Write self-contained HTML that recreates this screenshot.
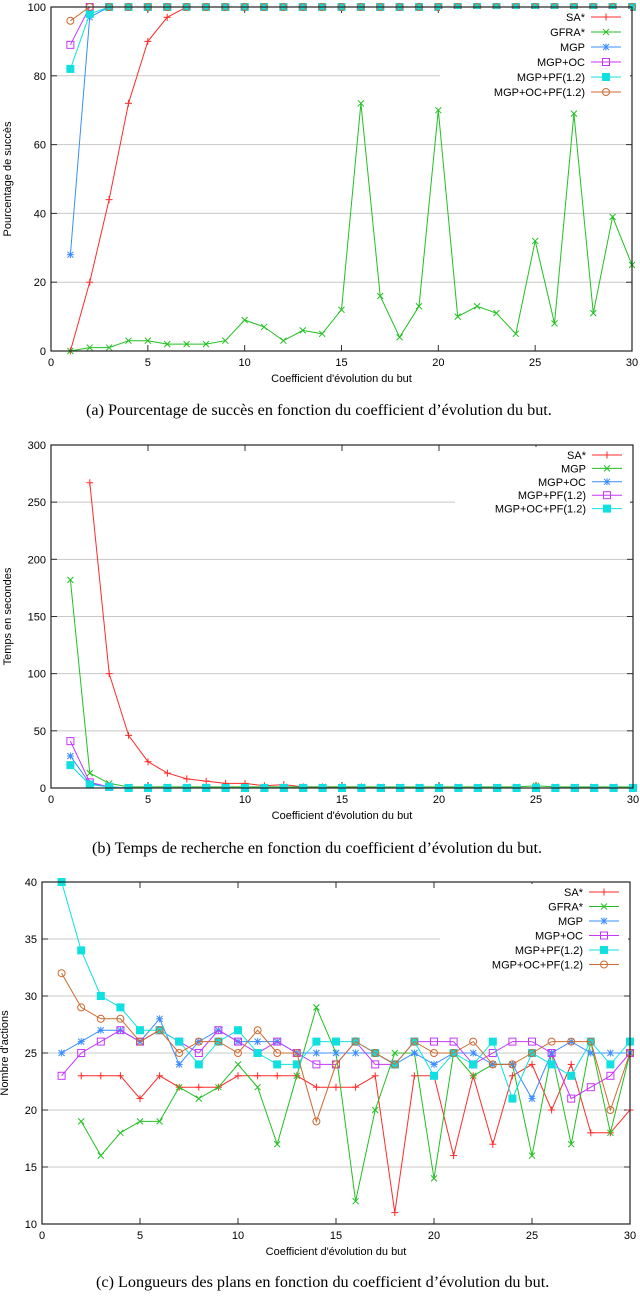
<!DOCTYPE html>
<html><head><meta charset="utf-8"><style>
html,body{margin:0;padding:0;background:#fff;}
svg{display:block;font-family:"Liberation Sans",sans-serif;}
.cap{font-family:"Liberation Serif",serif;font-size:16.2px;}
</style></head><body>
<svg id="fig" width="640" height="1296" viewBox="0 0 640 1296" xmlns="http://www.w3.org/2000/svg"></svg>
<script>
// ---------- Chart (a) data ----------
const catsA = [1,2,3,4,5,6,7,8,9,10,11,12,13,14,15,16,17,18,19,20,21,22,23,24,25,26,27,28,29,30];
const a_SA = [0,20,44,72,90,97,100,100,100,100,100,100,100,100,100,100,100,100,100,100,100,100,100,100,100,100,100,100,100,100];
const a_GFRA = [0,1,1,3,3,2,2,2,3,9,7,3,6,5,12,72,16,4,13,70,10,13,11,5,32,8,69,11,39,25];
const a_MGP = [28,97,100,100,100,100,100,100,100,100,100,100,100,100,100,100,100,100,100,100,100,100,100,100,100,100,100,100,100,100];
const a_MGPOC = [89,100,100,100,100,100,100,100,100,100,100,100,100,100,100,100,100,100,100,100,100,100,100,100,100,100,100,100,100,100];
const a_MGPPF = [82,98,100,100,100,100,100,100,100,100,100,100,100,100,100,100,100,100,100,100,100,100,100,100,100,100,100,100,100,100];
const a_MGPOCPF = [96,100,100,100,100,100,100,100,100,100,100,100,100,100,100,100,100,100,100,100,100,100,100,100,100,100,100,100,100,100];
const a_yticks = [0,20,40,60,80,100];
// ---------- Chart (b) data ----------
const b_SA = [null,267,100,46,23,13,8,6,4,4,2,3,1,1,1,1,0,0,0,0,0,0,0,0,0,0,0,0,0,0];
const b_MGP = [182,13,4,1,1,1,1,1,1,1,1,1,1,1,1,1,1,1,1,1,1,1,1,1,2,1,1,1,1,1];
const b_MGPOC = [28,4,1,0,0,0,0,0,0,0,0,0,0,0,0,0,0,0,0,0,0,0,0,0,0,0,0,0,0,0];
const b_MGPPF = [41,5,1,0,0,0,0,0,0,0,0,0,0,0,0,0,0,0,0,0,0,0,0,0,0,0,0,0,0,0];
const b_MGPOCPF = [20,3,1,0,0,0,0,0,0,0,0,0,0,0,0,0,0,0,0,0,0,0,0,0,0,0,0,0,0,0];
const b_yticks = [0,50,100,150,200,250,300];
// ---------- Chart (c) data ----------
const c_SA = [null,23,23,23,21,23,22,22,22,23,23,23,23,22,22,22,23,11,23,23,16,23,17,23,24,20,24,18,18,20];
const c_GFRA = [null,19,16,18,19,19,22,21,22,24,22,17,23,29,25,12,20,25,25,14,25,23,24,24,16,25,17,26,18,25];
const c_MGP = [25,26,27,27,26,28,24,26,27,26,26,26,25,25,25,25,25,24,25,24,25,25,24,24,21,25,26,25,25,25];
const c_MGPOC = [23,25,26,27,26,27,26,25,27,26,25,26,25,24,24,26,24,24,26,26,26,24,25,26,26,25,21,22,23,25];
const c_MGPPF = [40,34,30,29,27,27,26,24,26,27,25,24,24,26,26,26,25,24,26,23,25,24,26,21,25,24,23,26,24,26];
const c_MGPOCPF = [32,29,28,28,26,27,25,26,26,25,27,25,25,19,24,26,25,24,26,25,25,26,24,24,25,26,26,26,20,25];
const c_yticks = [10,15,20,25,30,35,40];
const xticks = [0,5,10,15,20,25,30];

const NS = "http://www.w3.org/2000/svg";
const svg = document.getElementById('fig');
function mk(tag, attrs, parent){
  const e = document.createElementNS(NS, tag);
  for (const k in attrs) e.setAttribute(k, attrs[k]);
  (parent||svg).appendChild(e);
  return e;
}
const COL = {red:'#ff2a2a', green:'#22c022', blue:'#3a8cff', mag:'#c636ff', cyan:'#10e0e0', brown:'#cc6a30'};

function marker(g, type, x, y, c){
  const s = 3.5;
  if (type==='plus'||type==='star'){
    mk('line',{x1:x-s,y1:y,x2:x+s,y2:y,stroke:c,'stroke-width':1},g);
    mk('line',{x1:x,y1:y-s,x2:x,y2:y+s,stroke:c,'stroke-width':1},g);
  }
  if (type==='cross'||type==='star'){
    mk('line',{x1:x-3,y1:y-3,x2:x+3,y2:y+3,stroke:c,'stroke-width':1},g);
    mk('line',{x1:x-3,y1:y+3,x2:x+3,y2:y-3,stroke:c,'stroke-width':1},g);
  }
  if (type==='osq') mk('rect',{x:x-3.5,y:y-3.5,width:7,height:7,fill:'none',stroke:c,'stroke-width':1},g);
  if (type==='fsq') mk('rect',{x:x-4,y:y-4,width:8,height:8,fill:c},g);
  if (type==='circ') mk('circle',{cx:x,cy:y,r:3.5,fill:'none',stroke:c,'stroke-width':1},g);
}

function chart(cfg){
  const g = mk('g',{});
  
  
  const {l,t,r,b,ymin,ymax} = cfg;
  const sx = v => l + (v-0)/(30-0)*(r-l);
  const sy = v => b - (v-ymin)/(ymax-ymin)*(b-t);
  cfg.yticks.forEach(v=>{
    const gl = mk('line',{x1:l,y1:sy(v),x2:r,y2:sy(v),stroke:'#c8c8c8','stroke-width':1},g);
    
    
    const tl = mk('text',{x:l-5,y:sy(v)+4,'text-anchor':'end','font-size':11},g);
    tl.textContent = v;
    
    
    mk('line',{x1:l,y1:sy(v),x2:l+6,y2:sy(v),stroke:'#333'},g);
    mk('line',{x1:r,y1:sy(v),x2:r-6,y2:sy(v),stroke:'#333'},g);
  });
  xticks.forEach(v=>{
    const tl = mk('text',{x:sx(v),y:b+15,'text-anchor':'middle','font-size':11},g);
    tl.textContent = v;
    
    
    mk('line',{x1:sx(v),y1:b,x2:sx(v),y2:b-6,stroke:'#333'},g);
    mk('line',{x1:sx(v),y1:t,x2:sx(v),y2:t+6,stroke:'#333'},g);
  });
  cfg.series.forEach(s=>{
    const sg = mk('g',{},g);
    
    
    let d = '';
    let pen = false;
    s.data.forEach((v,i)=>{
      if (v===null){ pen=false; return; }
      d += (pen?'L':'M') + sx(catsA[i]).toFixed(1) + ' ' + sy(v).toFixed(1) + ' ';
      pen = true;
    });
    mk('path',{d:d,fill:'none',stroke:s.c,'stroke-width':1},sg);
    s.data.forEach((v,i)=>{
      if (v===null) return;
      marker(sg, s.m, sx(catsA[i]), sy(v), s.c);
    });
  });
  const lg = mk('g',{},g);
  
  
  mk('rect',{x:cfg.lgBox[0],y:cfg.lgBox[1],width:cfg.lgBox[2],height:cfg.lgBox[3],fill:'#fff'},lg);
  cfg.series.forEach((s,i)=>{
    const y = cfg.lgY + i*cfg.lgStep;
    const tx = mk('text',{x:cfg.lgX,y:y+4,'text-anchor':'end','font-size':11},lg);
    tx.textContent = s.label;
    
    
    mk('line',{x1:cfg.lgX+6,y1:y,x2:cfg.lgX+36,y2:y,stroke:s.c,'stroke-width':1},lg);
    marker(lg, s.m, cfg.lgX+21, y, s.c);
  });
  const fr = mk('rect',{x:l,y:t,width:r-l,height:b-t,fill:'none',stroke:'#222','stroke-width':1.2},g);
  
  
  const xt = mk('text',{x:(l+r)/2,y:b+31,'text-anchor':'middle','font-size':11},g);
  xt.textContent = "Coefficient d'évolution du but";
  
  
  const yt = mk('text',{x:0,y:0,'text-anchor':'middle','font-size':11,transform:'translate('+cfg.ytX+','+((t+b)/2)+') rotate(-90)'},g);
  yt.textContent = cfg.ytitle;
  
  
  const cp = mk('text',{x:cfg.capX,y:cfg.capY,'class':'cap'},g);
  cp.textContent = cfg.caption;
  
  
}

chart({name:'chart-success-rate',l:51,t:7,r:632,b:351,ymin:0,ymax:100,yticks:a_yticks,
  ytitle:'Pourcentage de succès',ytX:11,
  caption:'(a)  Pourcentage de succès en fonction du coefficient d’évolution du but.',capX:86,capY:415,
  lgX:585,lgY:17,lgStep:15,lgBox:[440,9,190,92],
  series:[
    {key:'sa',label:'SA*',data:a_SA,c:COL.red,m:'plus'},
    {key:'gfra',label:'GFRA*',data:a_GFRA,c:COL.green,m:'cross'},
    {key:'mgp',label:'MGP',data:a_MGP,c:COL.blue,m:'star'},
    {key:'mgp-oc',label:'MGP+OC',data:a_MGPOC,c:COL.mag,m:'osq'},
    {key:'mgp-pf',label:'MGP+PF(1.2)',data:a_MGPPF,c:COL.cyan,m:'fsq'},
    {key:'mgp-oc-pf',label:'MGP+OC+PF(1.2)',data:a_MGPOCPF,c:COL.brown,m:'circ'}]});

chart({name:'chart-search-time',l:51,t:445,r:633,b:788,ymin:0,ymax:300,yticks:b_yticks,
  ytitle:'Temps en secondes',ytX:11,
  caption:'(b)  Temps de recherche en fonction du coefficient d’évolution du but.',capX:92,capY:853,
  lgX:586,lgY:455,lgStep:13.4,lgBox:[455,447,175,70],
  series:[
    {key:'sa',label:'SA*',data:b_SA,c:COL.red,m:'plus'},
    {key:'mgp',label:'MGP',data:b_MGP,c:COL.green,m:'cross'},
    {key:'mgp-oc',label:'MGP+OC',data:b_MGPOC,c:COL.blue,m:'star'},
    {key:'mgp-pf',label:'MGP+PF(1.2)',data:b_MGPPF,c:COL.mag,m:'osq'},
    {key:'mgp-oc-pf',label:'MGP+OC+PF(1.2)',data:b_MGPOCPF,c:COL.cyan,m:'fsq'}]});

chart({name:'chart-plan-length',l:42,t:882,r:630,b:1224,ymin:10,ymax:40,yticks:c_yticks,
  ytitle:"Nombre d'actions",ytX:8,
  caption:'(c)  Longueurs des plans en fonction du coefficient d’évolution du but.',capX:96,capY:1287,
  lgX:583,lgY:892,lgStep:14.5,lgBox:[440,884,188,86],
  series:[
    {key:'sa',label:'SA*',data:c_SA,c:COL.red,m:'plus'},
    {key:'gfra',label:'GFRA*',data:c_GFRA,c:COL.green,m:'cross'},
    {key:'mgp',label:'MGP',data:c_MGP,c:COL.blue,m:'star'},
    {key:'mgp-oc',label:'MGP+OC',data:c_MGPOC,c:COL.mag,m:'osq'},
    {key:'mgp-pf',label:'MGP+PF(1.2)',data:c_MGPPF,c:COL.cyan,m:'fsq'},
    {key:'mgp-oc-pf',label:'MGP+OC+PF(1.2)',data:c_MGPOCPF,c:COL.brown,m:'circ'}]});
</script>
</body></html>
